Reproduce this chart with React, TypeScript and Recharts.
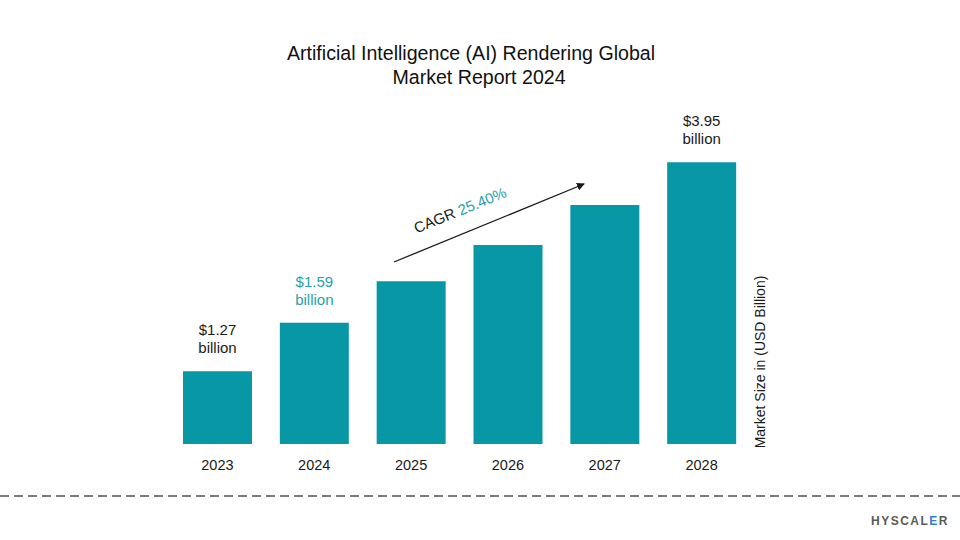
import { BarChart, Bar, XAxis, YAxis, LabelList } from 'recharts'

const years = ['2023', '2024', '2025', '2026', '2027', '2028']
// bar heights as drawn in the picture (USD billion, scaled so 2028 = 3.95)
const barHeights = [1.02, 1.7, 2.28, 2.79, 3.35, 3.95]
const valueLabels = ['$1.27', '$1.59', '', '', '', '$3.95']
const labelColors = ['#1a1a1a', '#1fa3a8', '#1a1a1a', '#1a1a1a', '#1a1a1a', '#1a1a1a']

const TEAL = '#0898a5'
const FONT = '"Liberation Sans", Arial, sans-serif'

const data = years.map((year, i) => ({ year, value: barHeights[i], label: valueLabels[i] }))

function BarTopLabel(props: any) {
  const { x, y, width, value } = props
  if (!value) return null
  const idx = props.index ?? valueLabels.indexOf(value)
  const cx = Number(x) + Number(width) / 2
  const fill = labelColors[idx] ?? '#1a1a1a'
  return (
    <g>
      <text x={cx} y={Number(y) - 36} textAnchor="middle" fontSize={15} fill={fill} fontFamily={FONT}>
        {value}
      </text>
      <text x={cx} y={Number(y) - 18} textAnchor="middle" fontSize={15} fill={fill} fontFamily={FONT}>
        billion
      </text>
    </g>
  )
}

function AxisTitle(props: any) {
  const vb = props.viewBox || {}
  const x = (vb.x ?? 750) + 15
  const y = 362
  return (
    <text
      x={x}
      y={y}
      transform={`rotate(-90, ${x}, ${y})`}
      textAnchor="middle"
      fontSize={14}
      fill="#1a1a1a"
      fontFamily={FONT}
    >
      Market Size in (USD Billion)
    </text>
  )
}

export default function App() {
  return (
    <div style={{ position: 'absolute', left: 0, top: 0, width: 960, height: 540, background: '#fff', fontFamily: FONT }}>
      <BarChart
        width={960}
        height={540}
        data={data}
        margin={{ top: 123, right: 180, bottom: 66, left: 169 }}
        barCategoryGap={14}
      >
        <XAxis
          dataKey="year"
          axisLine={false}
          tickLine={false}
          tickMargin={10}
          height={30}
          interval={0}
          tick={{ fontSize: 14.5, fill: '#1a1a1a', fontFamily: FONT }}
        />
        <YAxis
          orientation="right"
          domain={[0, 4.5]}
          axisLine={false}
          tickLine={false}
          tick={false}
          width={30}
          label={<AxisTitle />}
        />
        <Bar dataKey="value" fill={TEAL} isAnimationActive={false}>
          <LabelList dataKey="label" content={<BarTopLabel />} />
        </Bar>
      </BarChart>
      <svg
        width={960}
        height={540}
        style={{ position: 'absolute', left: 0, top: 0, pointerEvents: 'none' }}
      >
        <defs>
          <marker id="arrowHead" markerWidth="8" markerHeight="8" refX="7" refY="4" orient="auto" markerUnits="userSpaceOnUse">
            <path d="M0,0 L8,4 L0,8 Z" fill="#1a1a1a" />
          </marker>
        </defs>
        <text x={471} y={60} textAnchor="middle" fontSize={19.6} fill="#111" fontFamily={FONT}>
          Artificial Intelligence (AI) Rendering Global
        </text>
        <text x={479} y={84} textAnchor="middle" fontSize={19.6} fill="#111" fontFamily={FONT}>
          Market Report 2024
        </text>
        <line x1={394} y1={262} x2={584} y2={184} stroke="#1a1a1a" strokeWidth={1.3} markerEnd="url(#arrowHead)" />
        <text
          x={462}
          y={215}
          transform="rotate(-22, 462, 215)"
          textAnchor="middle"
          fontSize={15}
          fill="#1a1a1a"
          fontFamily={FONT}
        >
          CAGR <tspan fill="#1fa3a8">25.40%</tspan>
        </text>
        <line x1={0} y1={496} x2={960} y2={496} stroke="#7a7a7a" strokeWidth={2} strokeDasharray="9 5" />
        <text x={871} y={525} fontSize={12} fontWeight="bold" letterSpacing={1.5} fill="#5a5a5a" fontFamily={FONT}>
          HYSCAL<tspan fill="#2f7fd6">E</tspan>R
        </text>
      </svg>
    </div>
  )
}
